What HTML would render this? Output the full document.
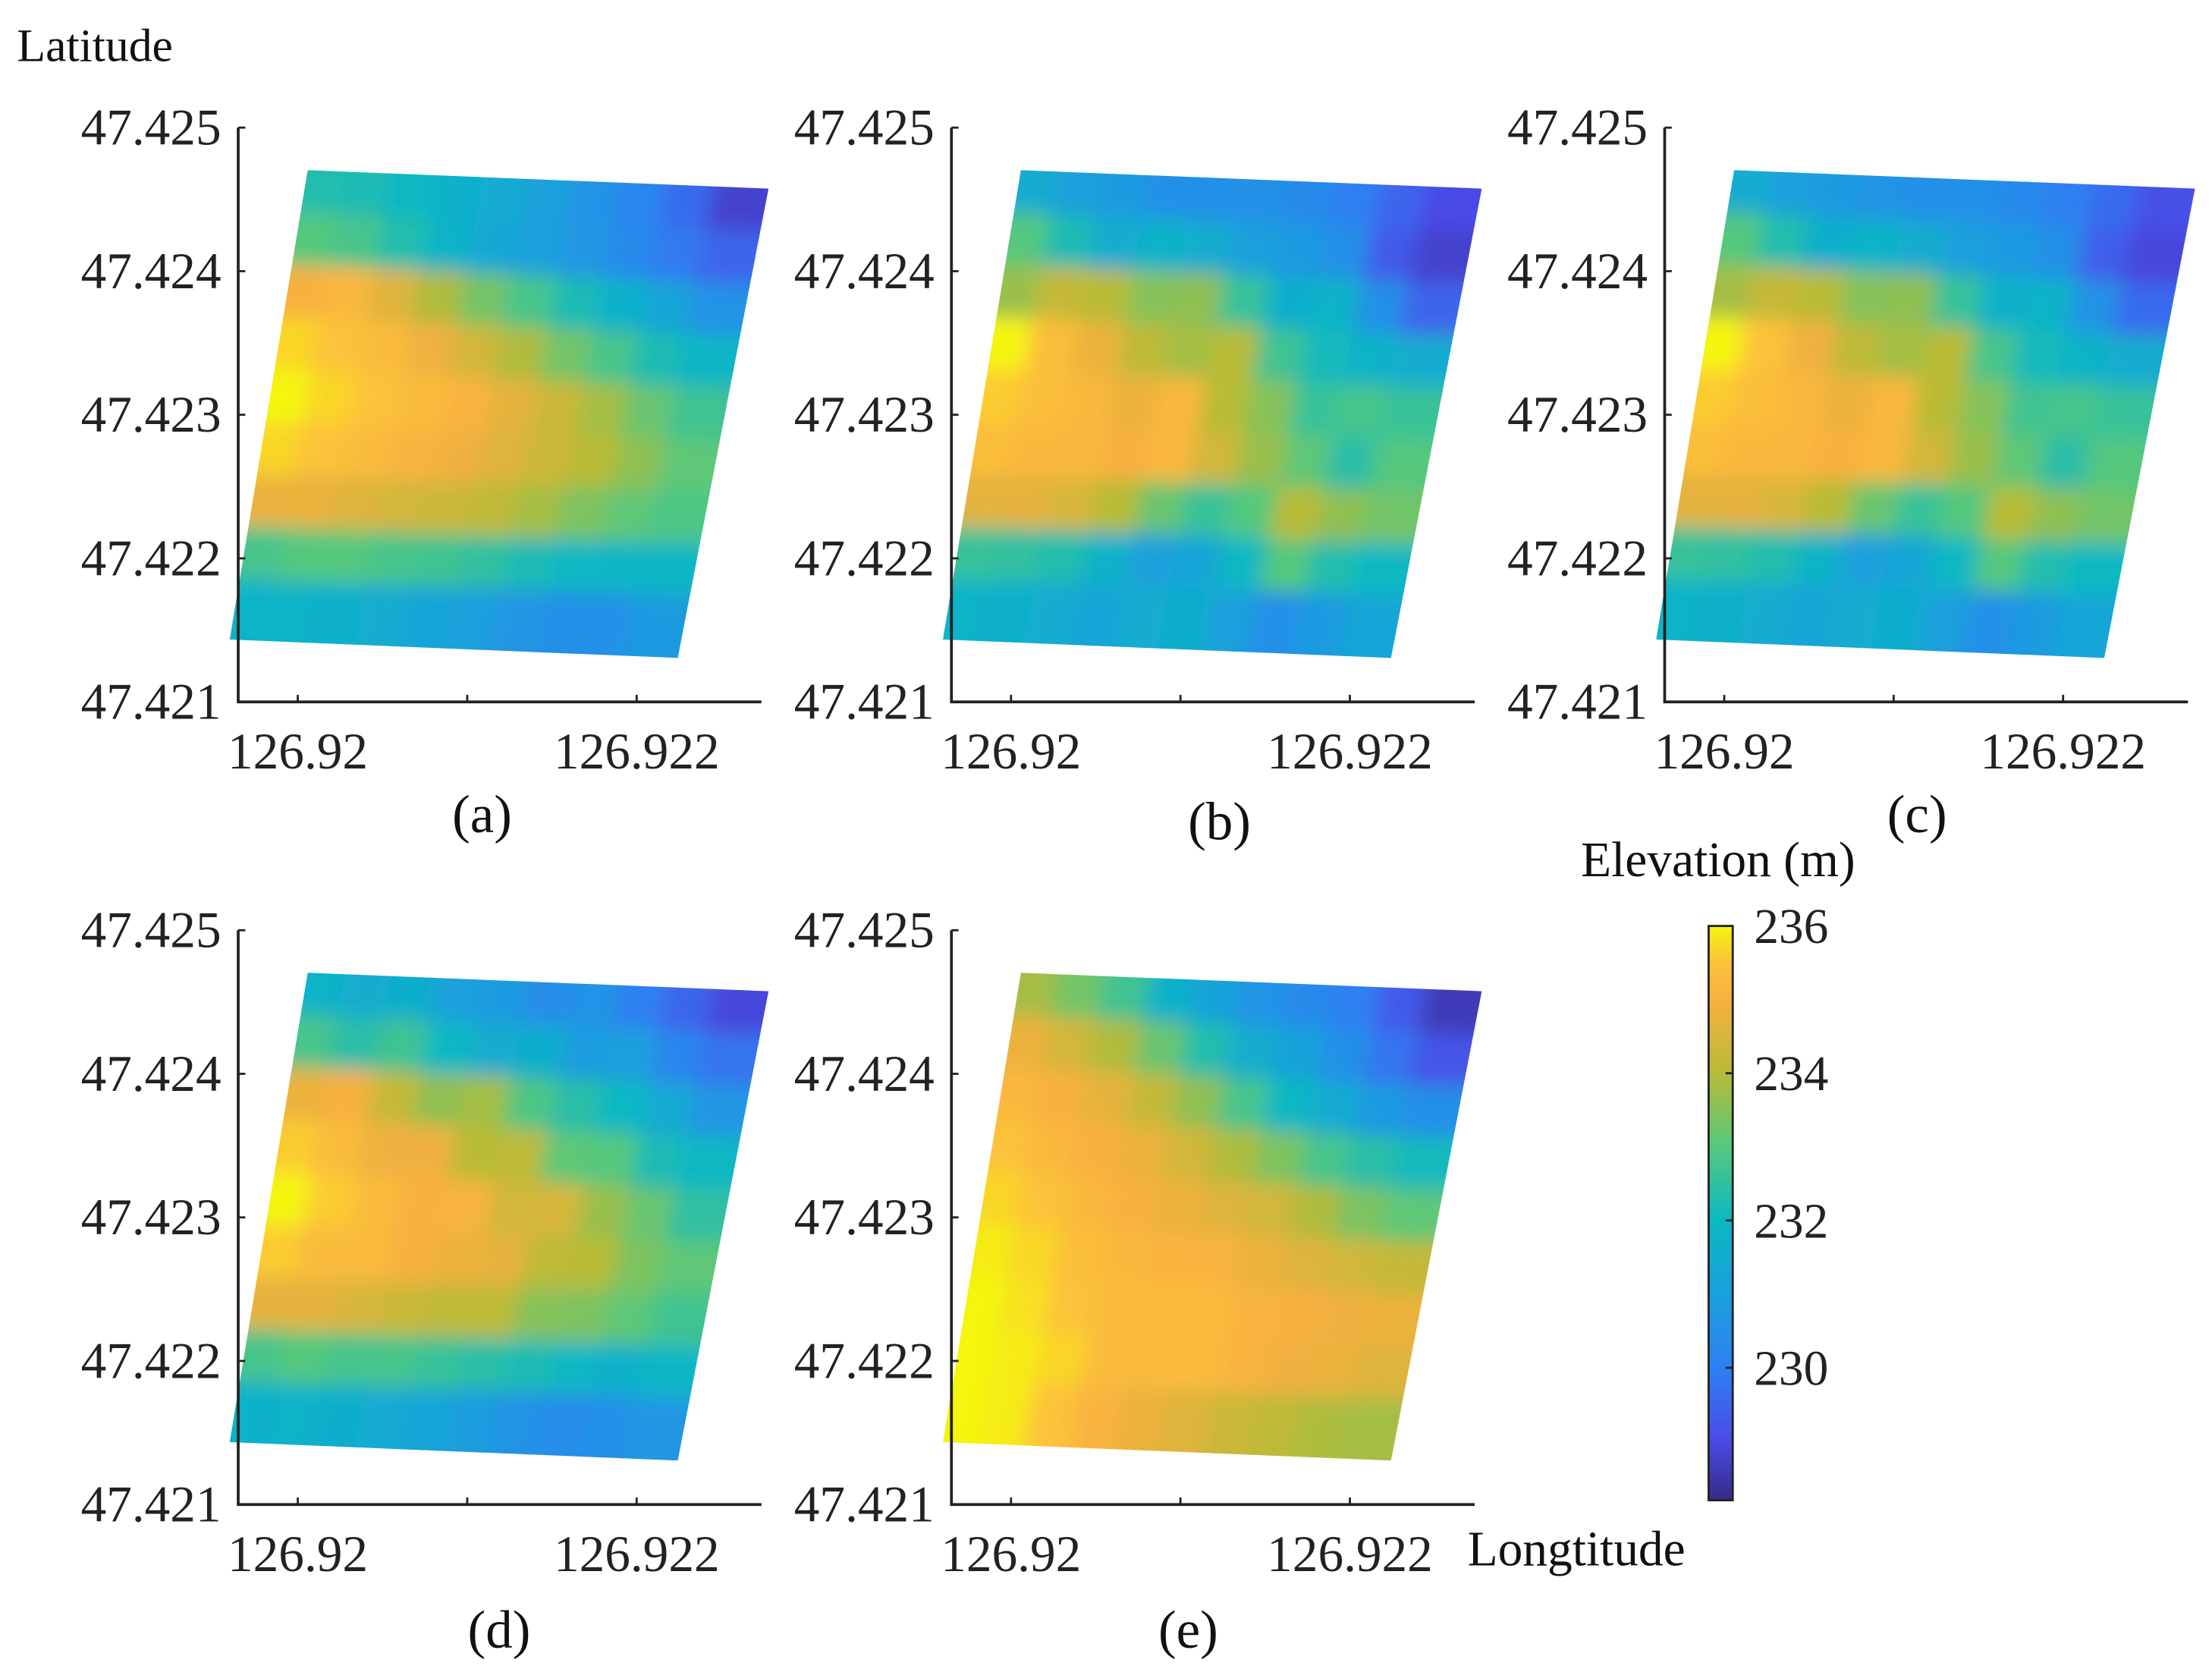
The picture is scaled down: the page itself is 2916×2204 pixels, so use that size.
<!DOCTYPE html>
<html><head><meta charset="utf-8"><style>
html,body{margin:0;padding:0;background:#fff;}
svg{display:block;}
text{font-family:"Liberation Serif",serif;}
</style></head><body>
<svg id="fig" width="2916" height="2204" viewBox="0 0 1560 1179.1" xmlns="http://www.w3.org/2000/svg">
<defs>
<filter id="blur" x="-5%" y="-5%" width="110%" height="110%"><feGaussianBlur stdDeviation="7"/></filter>
<linearGradient id="cbgrad" x1="0" y1="1" x2="0" y2="0">
<stop offset="0" stop-color="#352a87"/><stop offset="0.103" stop-color="#4a4ae6"/><stop offset="0.231" stop-color="#2e80f2"/><stop offset="0.359" stop-color="#1aa0dc"/><stop offset="0.487" stop-color="#0bb8c2"/><stop offset="0.615" stop-color="#55c87e"/><stop offset="0.744" stop-color="#b8bb36"/><stop offset="0.872" stop-color="#f8b040"/><stop offset="0.936" stop-color="#fcc23a"/><stop offset="1" stop-color="#f5f50e"/>
</linearGradient>
</defs>
<text x="12" y="43" font-size="33" fill="#111">Latitude</text>
<text x="1115" y="618" font-size="35" fill="#111">Elevation (m)</text>
<text x="1035" y="1104" font-size="35" fill="#111">Longtitude</text>
<g>
<rect x="1205" y="653" width="17" height="405" fill="url(#cbgrad)" stroke="#222" stroke-width="1.5"/>
<g id="cbticks"></g>
</g>
<g id="panels"></g>
</svg>
<script>
const cbTicks = [236, 234, 232, 230];
const cMin = 228.2, cMax = 236;
const latTicks = ["47.425", "47.424", "47.423", "47.422", "47.421"];
const lonTicks = ["126.92", "126.922"];
const panelLabels = ["(a)", "(b)", "(c)", "(d)", "(e)"];
const gridA = [
[232.3,232.2,232,231.7,231.4,231,230.6,230.2,229.6,228.8],
[233,232.8,232.3,231.8,231.3,231,230.7,230.3,229.9,229.5],
[235,235.2,234.6,233.9,233.3,232.8,232.2,231.7,231.2,230.6],
[235.7,235.5,235.3,234.9,234.4,233.9,233.3,232.8,232.2,231.9],
[236,235.7,235.5,235.3,235.1,234.7,234.3,233.8,233.2,232.7],
[235.7,235.5,235.3,235.1,234.9,234.6,234.3,234,233.6,233.1],
[234.8,234.8,234.6,234.4,234.3,234.1,233.8,233.4,233.1,232.9],
[232.8,233,233,232.8,232.7,232.5,232.2,232,231.9,231.9],
[231.8,231.8,231.7,231.5,231.2,231,230.7,230.5,230.5,230.8]];
const gridB = [
[231.5,231,230.8,230.5,230.5,230.5,230.3,230,229.5,229],
[233,232.2,231.5,231.8,231.5,231,230.8,230.5,229.3,228.8],
[233.7,234.2,234,233.5,233.6,232.6,231.6,231.8,230.5,229.5],
[236,235.4,234.8,234.1,233.8,234,232.7,232.1,231.8,231.5],
[235.6,235.4,235.2,234.8,235.2,234,233.5,232.6,232.8,232.6],
[235.4,235.2,235.2,235,235.2,234.4,233.7,233.1,232.4,233],
[234.7,234.7,234.5,234,233.2,232.6,233,234,233.6,233.3],
[232.6,232.5,232.3,231.8,231,231.2,232,233,232.3,232],
[231.8,231.7,231.5,231.2,231.5,231.6,231,230.5,230.8,231.2]];
const gridC = [
[231.5,231,230.8,230.6,230.5,230.5,230.3,230,229.6,229.1],
[233,232.3,231.6,231.8,231.5,231,230.8,230.5,229.4,228.9],
[233.8,234.2,234,233.5,233.6,232.6,231.7,231.8,230.6,229.6],
[236,235.5,234.9,234.1,233.8,234,232.8,232.1,231.8,231.5],
[235.6,235.4,235.2,234.8,235.2,234,233.5,232.7,232.8,232.6],
[235.4,235.2,235.2,235,235.2,234.4,233.7,233.1,232.4,233],
[234.7,234.7,234.5,234,233.2,232.6,233,234,233.6,233.3],
[232.6,232.5,232.3,231.8,231,231.2,232,233,232.3,232],
[231.8,231.7,231.5,231.2,231.5,231.6,231,230.5,230.8,231.2]];
const gridD = [
[231.8,231.5,231.6,231,230.8,230.4,230.6,230,229.5,228.9],
[232.8,232.4,232.7,232,231.5,231.6,230.9,231,230.2,229.8],
[234.8,235,234.2,233.6,233.8,232.9,232.4,232,231.4,230.7],
[235.6,235.3,234.9,234.9,234,234.1,233.1,233,232.2,232],
[236,235.6,235.3,235,235.1,234.4,234.5,233.7,233.2,232.5],
[235.6,235.3,235.3,235,234.8,234.7,234.1,234,233.4,233.1],
[234.7,234.7,234.5,234.3,234.1,234.1,233.5,233.4,233.1,232.7],
[232.8,233,232.8,232.8,232.6,232.4,232.2,232,231.7,231.9],
[231.7,231.8,231.6,231.4,231.2,230.9,230.6,230.4,230.5,230.7]];
const gridE = [
[233.8,233.3,232.7,231.7,231.1,230.6,230.3,230,229.3,228.6],
[234.8,234.4,233.9,233.2,232.3,231.5,231.1,230.5,229.8,229.2],
[235.2,235,234.7,234.2,233.6,232.8,232,231.4,230.8,230.5],
[235.5,235.2,235,234.8,234.4,233.9,233.4,232.8,232.4,232.1],
[235.7,235.5,235.2,235,234.8,234.6,234.4,233.9,233.4,233.1],
[235.9,235.7,235.4,235.2,235.1,235.1,234.8,234.6,234.4,234.2],
[236,235.8,235.5,235.3,235.3,235.3,235.1,235,234.9,234.8],
[236,235.9,235.7,235.3,235.3,235.3,235.1,234.9,234.8,234.6],
[236,235.9,235.5,235.1,234.8,234.6,234.3,234.1,233.9,233.8]];
const grids = [gridA, gridB, gridC, gridD, gridE];

const NS = "http://www.w3.org/2000/svg";
const stops = [[0,[53,42,135]],[0.103,[74,74,230]],[0.231,[46,128,242]],[0.359,[26,160,220]],[0.487,[11,184,194]],[0.615,[85,200,126]],[0.744,[184,187,54]],[0.872,[248,176,64]],[0.936,[252,194,58]],[1,[245,245,14]]];
function cmap(v){
  let t = Math.max(0, Math.min(1, (v - cMin) / (cMax - cMin)));
  for (let i = 1; i < stops.length; i++) {
    if (t <= stops[i][0]) {
      const a = stops[i-1], b = stops[i], f = (t - a[0]) / (b[0] - a[0]);
      const c = a[1].map((x, k) => Math.round(x + (b[1][k] - x) * f));
      return "rgb(" + c.join(",") + ")";
    }
  }
  return "rgb(245,245,14)";
}
function mk(tag, attrs, parent){
  const e = document.createElementNS(NS, tag);
  for (const k in attrs) e.setAttribute(k, attrs[k]);
  parent.appendChild(e);
  return e;
}
const cbg = document.getElementById("cbticks");
const cbY = v => 1058 - (v - cMin) / (cMax - cMin) * 405;
cbTicks.forEach(v => {
  const y = cbY(v);
  const ln = mk("line", {x1:1217, x2:1222, y1:y, y2:y, stroke:"#222", "stroke-width":1.5}, cbg);
  
  
  const t = mk("text", {x:1237, y:y+12, "font-size":35, fill:"#222"}, cbg);
  
  
  t.textContent = v;
});

const offsets = [[0,0],[503,0],[1006,0],[0,566],[503,566]];
const root = document.getElementById("panels");
offsets.forEach((off, p) => {
  const ox = off[0], oy = off[1];
  const g = mk("g", {}, root);
  
  
  const TL=[217+ox,120+oy], TR=[542+ox,133+oy], BR=[478+ox,464+oy], BL=[162+ox,451+oy];
  const clipId = "clip" + p;
  const cp = mk("clipPath", {id:clipId}, g);
  mk("polygon", {points:[TL,TR,BR,BL].map(q=>q.join(",")).join(" ")}, cp);
  const outer = mk("g", {"clip-path":"url(#"+clipId+")"}, g);
  
  
  const hg = mk("g", {filter:"url(#blur)"}, outer);
  const grid = grids[p];
  const R = grid.length, C = grid[0].length;
  const pt = (u, v) => {
    const top = [TL[0]+(TR[0]-TL[0])*u, TL[1]+(TR[1]-TL[1])*u];
    const bot = [BL[0]+(BR[0]-BL[0])*u, BL[1]+(BR[1]-BL[1])*u];
    return [top[0]+(bot[0]-top[0])*v, top[1]+(bot[1]-top[1])*v];
  };
  for (let r = 0; r < R; r++) for (let c = 0; c < C; c++) {
    const e = 0.02, ext = 0.15;
    const u0 = c === 0 ? -ext : c / C - e;
    const u1 = c === C - 1 ? 1 + ext : (c + 1) / C + e;
    const v0 = r === 0 ? -ext : r / R - e;
    const v1 = r === R - 1 ? 1 + ext : (r + 1) / R + e;
    const ps = [pt(u0,v0), pt(u1,v0), pt(u1,v1), pt(u0,v1)];
    const cell = mk("polygon", {points: ps.map(q=>q[0].toFixed(1)+","+q[1].toFixed(1)).join(" "), fill: cmap(grid[r][c])}, hg);
    
    
  }
  const x0 = 168+ox, y0 = 495+oy, yTop = 90+oy, xR = 537+ox;
  const ax = mk("path", {d:`M${x0},${yTop} V${y0} H${xR}`, fill:"none", stroke:"#222", "stroke-width":2}, g);
  
  
  latTicks.forEach((lab, i) => {
    const y = yTop + i * (y0 - yTop) / (latTicks.length - 1);
    mk("line", {x1:x0, x2:x0+5, y1:y, y2:y, stroke:"#222", "stroke-width":1.5}, g);
    const t = mk("text", {x:x0-12, y:y+12, "font-size":36, "text-anchor":"end", fill:"#222"}, g);
    
    
    t.textContent = lab;
  });
  const lonX = v => 210 + ox + (v - 126.92) / 0.002 * 239;
  [126.92, 126.921, 126.922].forEach(v => {
    mk("line", {x1:lonX(v), x2:lonX(v), y1:y0, y2:y0-5, stroke:"#222", "stroke-width":1.5}, g);
  });
  lonTicks.forEach(lab => {
    const t = mk("text", {x:lonX(parseFloat(lab)), y:y0+47, "font-size":36, "text-anchor":"middle", fill:"#222"}, g);
    
    
    t.textContent = lab;
  });
  const lp = [[340,587],[860,592],[1352,587],[352,1162],[838,1162]][p];
  const lt = mk("text", {x:lp[0], y:lp[1], "font-size":38, "text-anchor":"middle", fill:"#111"}, g);
  
  
  lt.textContent = panelLabels[p];
});
</script>
</body></html>
